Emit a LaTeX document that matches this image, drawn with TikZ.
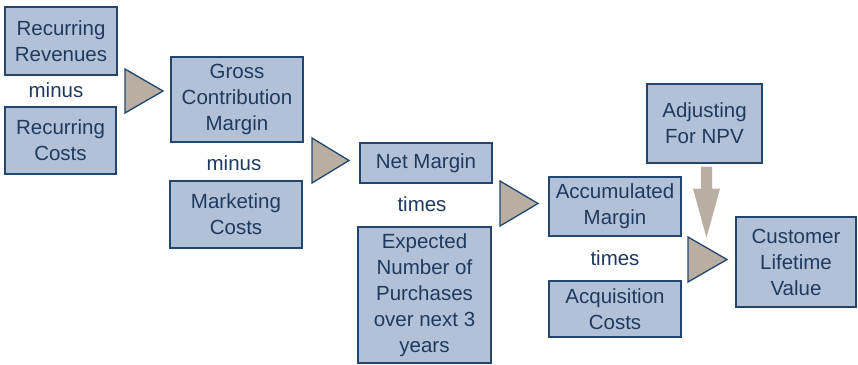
\documentclass[tikz,border=0pt]{standalone}
\usepackage{fontspec}
\setmainfont{Liberation Sans}
\definecolor{boxfill}{HTML}{B3C1D8}
\definecolor{boxline}{HTML}{22466F}
\definecolor{txt}{HTML}{1F3A60}
\definecolor{tricol}{HTML}{B8AEA1}
\tikzset{
  blk/.style={draw=boxline, line width=1.3pt, fill=boxfill, text=txt, align=center,
    inner sep=0pt, font=\fontsize{20.5}{26}\selectfont},
  op/.style={text=txt, font=\fontsize{20.5}{26}\selectfont, inner sep=0pt},
  tribox/.style={draw=boxline, line width=1.3pt, fill=tricol, line join=miter},
  bigarrow/.style={fill=tricol, draw=none},
}
\begin{document}
\begin{tikzpicture}[x=1pt,y=-1pt]
\useasboundingbox (0,0) rectangle (858,364);
% boxes
\node[blk, minimum width=112pt, minimum height=68pt] (rr) at (61,41) {Recurring\\Revenues};
\node[op] (minus1) at (56,90) {minus};
\node[blk, minimum width=111pt, minimum height=67pt] (rc) at (60.5,140.5) {Recurring\\Costs};
\node[blk, minimum width=132pt, minimum height=85pt] (gcm) at (237,99.5) {Gross\\Contribution\\Margin};
\node[op] (minus2) at (234,163) {minus};
\node[blk, minimum width=132pt, minimum height=67pt] (mc) at (236,214.5) {Marketing\\Costs};
\node[blk, minimum width=132pt, minimum height=40pt] (nm) at (426,163) {Net Margin};
\node[op] (times1) at (422,204) {times};
\node[blk, minimum width=133pt, minimum height=136pt] (enp) at (424.5,295) {Expected\\Number of\\Purchases\\over next 3\\years};
\node[blk, minimum width=132pt, minimum height=59pt] (am) at (615,206.5) {Accumulated\\Margin};
\node[op] (times2) at (615,258) {times};
\node[blk, minimum width=132pt, minimum height=56pt] (ac) at (615,309) {Acquisition\\Costs};
\node[blk, minimum width=115pt, minimum height=79pt] (npv) at (704.5,123.5) {Adjusting\\For NPV};
\node[blk, minimum width=120pt, minimum height=90pt] (clv) at (796,262) {Customer\\Lifetime\\Value};
% triangles
\draw[tribox] (125,69) -- (125,113) -- (163,91) -- cycle;
\draw[tribox] (312,138) -- (312,183) -- (349,160.5) -- cycle;
\draw[tribox] (500,181) -- (500,226) -- (538,203.5) -- cycle;
\draw[tribox] (688,237) -- (688,282) -- (727,259.5) -- cycle;
% thick down arrow from NPV box
\fill[bigarrow] ([xshift=-3.5pt,yshift=-3pt]npv.south) -- ++(0,22) -- ++(-8,0) -- ++(13.5,49)
  -- ++(13.5,-49) -- ++(-8,0) -- ++(0,-22) -- cycle;
\end{tikzpicture}
\end{document}
